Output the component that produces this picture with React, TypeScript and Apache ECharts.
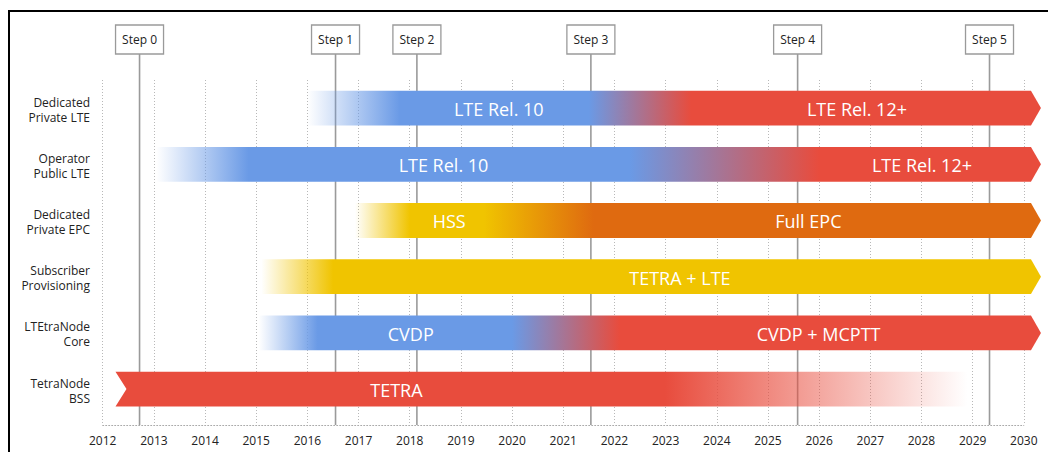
import React, { useEffect, useRef } from "react";
import * as echarts from "echarts";

// ---- data ----
const yearTicks = ["2012","2013","2014","2015","2016","2017","2018","2019","2020","2021","2022","2023","2024","2025","2026","2027","2028","2029","2030"];

const categories = [
  "Dedicated\nPrivate LTE",
  "Operator\nPublic LTE",
  "Dedicated\nPrivate EPC",
  "Subscriber\nProvisioning",
  "LTEtraNode\nCore",
  "TetraNode\nBSS",
];

const rowStart = [2016.0, 2013.05, 2016.93, 2015.1, 2015.05, 2012.25];
const rowEnd = [2030.14, 2030.14, 2030.14, 2030.14, 2030.14, 2028.9];
const rowArrow = [true, true, true, true, true, false];
const rowNotch = [false, false, false, false, false, true];

// gradient stops: [year, colour key, opacity]
const rowStops: [number, string, number][][] = [
  [[2016.0, "blue", 0], [2017.8, "blue", 1], [2021.5, "blue", 1], [2023.5, "red", 1]],
  [[2013.05, "blue", 0], [2014.85, "blue", 1], [2022.3, "blue", 1], [2026.0, "red", 1]],
  [[2016.93, "yellow", 0], [2018.0, "yellow", 1], [2019.45, "yellow", 1], [2021.6, "orange", 1]],
  [[2015.1, "yellow", 0], [2016.5, "yellow", 1]],
  [[2015.05, "blue", 0], [2016.2, "blue", 1], [2020.0, "blue", 1], [2022.1, "red", 1]],
  [[2022.99, "red", 1], [2028.9, "red", 0]],
];

const phaseLabels = [
  ["LTE Rel. 10", "LTE Rel. 12+"],
  ["LTE Rel. 10", "LTE Rel. 12+"],
  ["HSS", "Full EPC"],
  ["TETRA + LTE"],
  ["CVDP", "CVDP + MCPTT"],
  ["TETRA"],
];
const phaseLabelYears = [
  [2019.74, 2026.74],
  [2018.66, 2028.01],
  [2018.77, 2025.79],
  [2023.28],
  [2018.02, 2025.99],
  [2017.74],
];

const stepNames = ["Step 0", "Step 1", "Step 2", "Step 3", "Step 4", "Step 5"];
const stepYears = [2012.72, 2016.55, 2018.14, 2021.54, 2025.58, 2029.33];

// ---- styles ----
const palette: Record<string, number[]> = {
  blue: [106, 154, 230],
  red: [232, 76, 61],
  yellow: [240, 196, 0],
  orange: [223, 106, 16],
};
const rgba = (key: string, a: number) => {
  const c = palette[key];
  return `rgba(${c[0]},${c[1]},${c[2]},${a})`;
};
const FONT = '"Open Sans", "Noto Sans", sans-serif';

export default function App() {
  const ref = useRef<HTMLDivElement>(null);

  useEffect(() => {
    if (!ref.current) return;
    const chart = echarts.init(ref.current, undefined, { renderer: "svg" });

    const yMin = -0.5;
    const yMax = 5.639;

    const option: any = {
      animation: false,
      backgroundColor: "#ffffff",
      grid: {
        left: 102.7,
        right: 24.2,
        top: 80,
        bottom: 27,
        containLabel: false,
        outerBoundsMode: "none",
      },
      xAxis: {
        type: "value",
        min: Number(yearTicks[0]),
        max: Number(yearTicks[yearTicks.length - 1]),
        interval: 1,
        axisLine: { show: true, onZero: false, lineStyle: { color: "#aaaaaa", width: 1, type: [1, 2] } },
        axisTick: { show: false },
        axisLabel: {
          color: "#222222",
          fontSize: 12,
          fontFamily: FONT,
          margin: 9,
          formatter: (v: number) => yearTicks[Math.round(v - Number(yearTicks[0]))] ?? "",
        },
        splitLine: { show: true, lineStyle: { color: "#b8b8b8", width: 1, type: [1, 2] } },
      },
      yAxis: {
        type: "value",
        min: yMin,
        max: yMax,
        inverse: true,
        show: false,
        splitLine: { show: false },
      },
      graphic: [
        {
          type: "rect",
          silent: true,
          z: 100,
          shape: { x: 9, y: 11, width: 1200, height: 600 },
          style: { fill: "none", stroke: "#000000", lineWidth: 2 },
        },
      ],
      series: [
        {
          type: "custom",
          z: 1,
          clip: false,
          data: stepYears.map((y, i) => [y, i]),
          renderItem: (params: any, api: any) => {
            const yr = api.value(0);
            const idx = params.dataIndex;
            const x = api.coord([yr, yMin])[0];
            const cs = params.coordSys;
            const bottom = cs.y + cs.height;
            const boxTop = 25;
            const boxH = 29;
            const boxW = 48;
            return {
              type: "group",
              children: [
                {
                  type: "line",
                  shape: { x1: x, y1: boxTop + boxH, x2: x, y2: bottom },
                  style: { stroke: "#9a9a9a", lineWidth: 1.6 },
                },
                {
                  type: "rect",
                  shape: { x: x - boxW / 2, y: boxTop, width: boxW, height: boxH },
                  style: { fill: "#ffffff", stroke: "#9a9a9a", lineWidth: 1.3 },
                },
                {
                  type: "text",
                  x: x,
                  y: boxTop + boxH / 2,
                  style: {
                    text: stepNames[idx],
                    fill: "#222222",
                    font: `12px ${FONT}`,
                    align: "center",
                    verticalAlign: "middle",
                  },
                },
              ],
            };
          },
        },
        {
          type: "custom",
          z: 2,
          clip: false,
          data: categories.map((_, i) => [i, rowStart[i], rowEnd[i]]),
          renderItem: (params: any, api: any) => {
            const row = params.dataIndex;
            const start = api.value(1);
            const end = api.value(2);
            const p0 = api.coord([start, row]);
            const p1 = api.coord([end, row]);
            const x0 = p0[0];
            const yc = p0[1];
            const x1 = p1[0];
            const h = api.size([0, 1])[1] * 0.62;
            const top = yc - h / 2;
            const bot = yc + h / 2;
            const tip = rowArrow[row] ? 10 : 0;
            const notch = rowNotch[row] ? 11 : 0;
            const xmin = x0;
            const xmax = x1 + tip;
            const stops = rowStops[row].map(([yr, key, a]) => {
              const px = api.coord([yr, row])[0];
              let off = (px - xmin) / (xmax - xmin);
              off = Math.max(0, Math.min(1, off));
              return { offset: off, color: rgba(key, a) };
            });
            const children: any[] = [
              {
                type: "polygon",
                shape: {
                  points: [
                    [x0, top],
                    [x1, top],
                    [x1 + tip, yc],
                    [x1, bot],
                    [x0, bot],
                    [x0 + notch, yc],
                  ],
                },
                style: {
                  fill: new echarts.graphic.LinearGradient(0, 0, 1, 0, stops),
                },
              },
            ];
            phaseLabels[row].forEach((lbl, k) => {
              const px = api.coord([phaseLabelYears[row][k], row])[0];
              children.push({
                type: "text",
                x: px,
                y: yc + 1,
                style: {
                  text: lbl,
                  fill: "#ffffff",
                  font: `18px ${FONT}`,
                  align: "center",
                  verticalAlign: "middle",
                },
              });
            });
            const gx = api.coord([Number(yearTicks[0]), row])[0];
            children.push({
              type: "text",
              x: gx - 12.7,
              y: yc + 1.5,
              style: {
                text: categories[row],
                fill: "#222222",
                font: `12px ${FONT}`,
                lineHeight: 15,
                align: "right",
                verticalAlign: "middle",
              },
            });
            return { type: "group", children };
          },
        },
      ],
    };

    chart.setOption(option);
    return () => chart.dispose();
  }, []);

  return (
    <div
      ref={ref}
      style={{ position: "fixed", left: 0, top: 0, width: 1048, height: 452, background: "#fff" }}
    />
  );
}
